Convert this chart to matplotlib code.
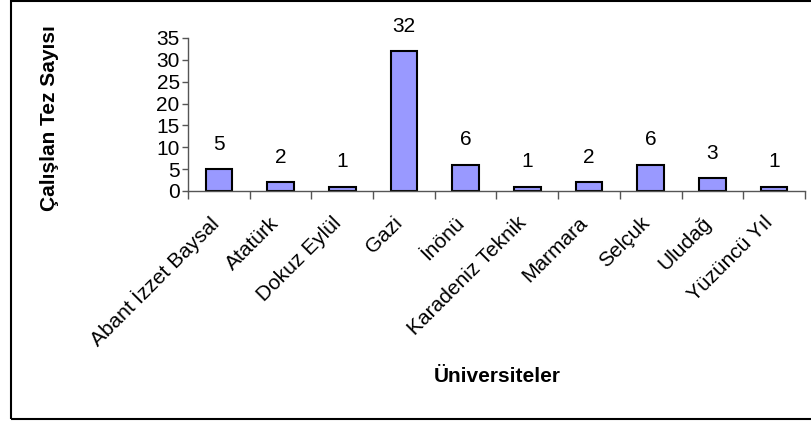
import numpy as np
import matplotlib
matplotlib.use("Agg")
import matplotlib.pyplot as plt
import matplotlib.transforms as mtransforms
from matplotlib.patches import Rectangle

universiteler = ["Abant İzzet Baysal", "Atatürk", "Dokuz Eylül", "Gazi", "İnönü",
                 "Karadeniz Teknik", "Marmara", "Selçuk", "Uludağ", "Yüzüncü Yıl"]
tez_sayisi = [5, 2, 1, 32, 6, 1, 2, 6, 3, 1]
y_ticks = [0, 5, 10, 15, 20, 25, 30, 35]

plt.rcParams["font.family"] = ["Liberation Sans", "DejaVu Sans"]

W, H = 812, 422
fig = plt.figure(figsize=(W / 100, H / 100), dpi=100)
# eksen: x 188..805, y 38..191 (px)
ax = fig.add_axes([188 / W, 1 - 191 / H, (805 - 188) / W, (191 - 38) / H])

x = np.arange(len(universiteler))
bars = ax.bar(x, tez_sayisi, width=0.43, color="#9999FF",
              edgecolor="black", linewidth=1.5)
for b, v in zip(bars, tez_sayisi):
    ax.annotate(str(v), (b.get_x() + b.get_width() / 2, v), xytext=(0, 11),
                textcoords="offset points", ha="center", va="bottom", fontsize=15)

ax.set_xlim(-0.5, len(universiteler) - 0.5)
ax.set_ylim(0, 35)
ax.set_yticks(y_ticks)
ax.tick_params(axis="y", labelsize=15, length=4, width=1, pad=2)
ax.set_xticks(np.arange(len(universiteler) + 1) - 0.5, minor=False)
ax.set_xticklabels([])
ax.set_xticks(x, minor=True)
ax.set_xticklabels(universiteler, minor=True, rotation=45, ha="right",
                   rotation_mode="anchor", fontsize=15)
ax.tick_params(axis="x", which="major", length=6, width=1, direction="out")
ax.tick_params(axis="x", which="minor", length=0, pad=11)
# etiketleri biraz sola-aşağı kaydır
shift = mtransforms.ScaledTranslation(-11 / 100, -7 / 100, fig.dpi_scale_trans)
for lbl in ax.get_xticklabels(minor=True):
    lbl.set_transform(lbl.get_transform() + shift)
for s in ["top", "right"]:
    ax.spines[s].set_visible(False)
for s in ["left", "bottom"]:
    ax.spines[s].set_color("#555555")
    ax.spines[s].set_linewidth(1)
ax.tick_params(axis="both", which="both", color="#555555", labelcolor="black")

fig.text(50 / W, 1 - 118 / H, "Çalışlan Tez Sayısı", rotation=90, ha="center",
         va="center", fontsize=15, fontweight="bold")
fig.text(497 / W, 1 - 377 / H, "Üniversiteler", ha="center", va="center",
         fontsize=15, fontweight="bold")

fig.patches.append(Rectangle((11 / W, 1 - 419 / H), 1.0, (419 - 1) / H,
                             transform=fig.transFigure, fill=False,
                             edgecolor="black", linewidth=1.5))

fig.savefig("out.png", dpi=100)
